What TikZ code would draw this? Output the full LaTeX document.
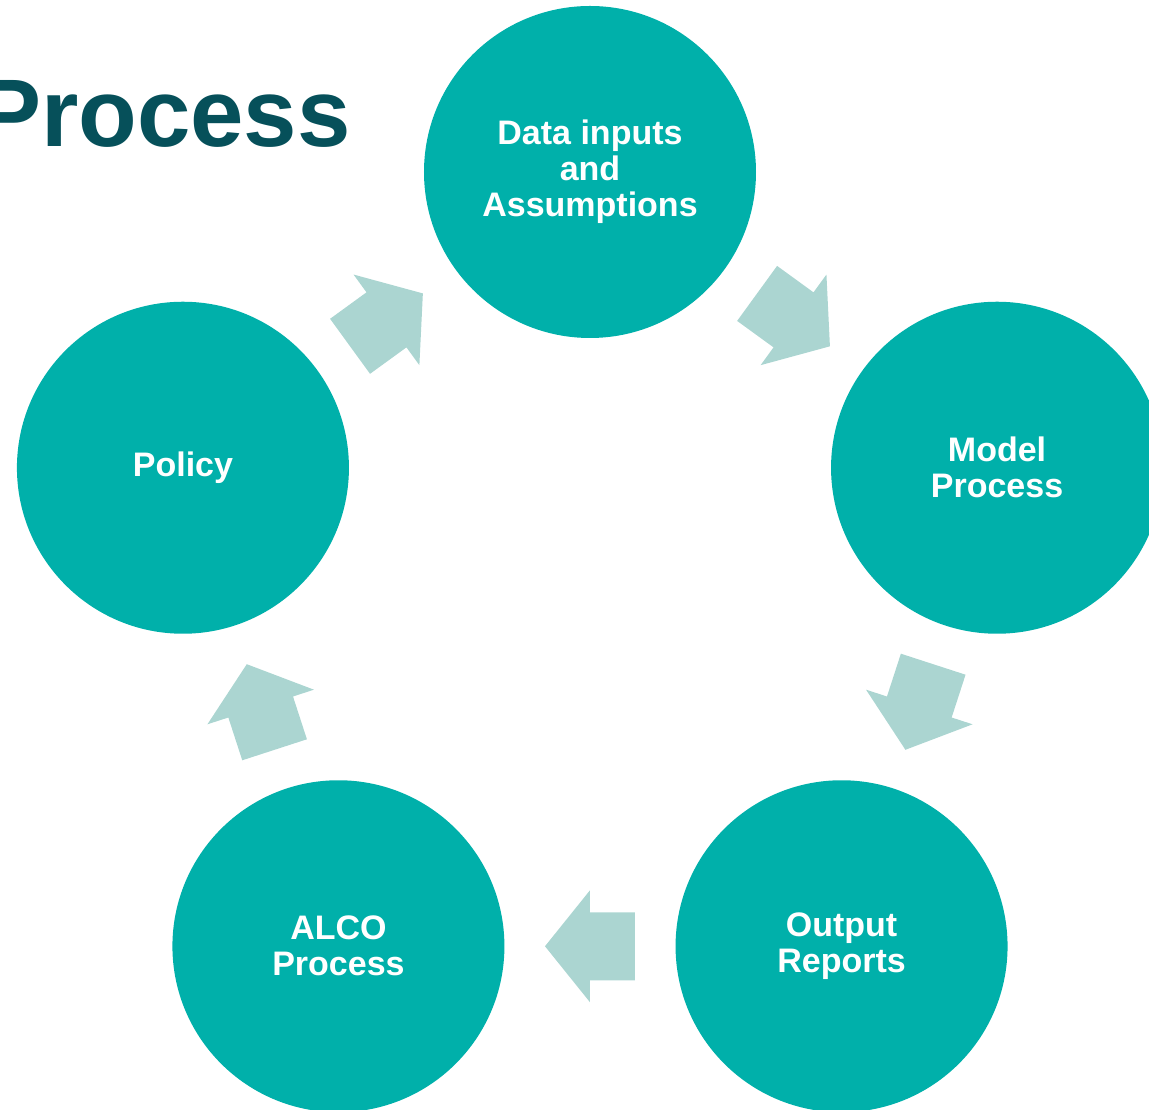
\documentclass[tikz,border=0pt]{standalone}
\usepackage{fontspec}
\setmainfont{Liberation Sans}
\usetikzlibrary{calc}

\definecolor{stageteal}{RGB}{0,176,170}
\definecolor{arrowteal}{RGB}{171,213,209}
\definecolor{titleteal}{RGB}{6,80,90}

\tikzset{
  stage/.style={circle, fill=stageteal, minimum size=332pt, inner sep=0pt,
    text=white, align=center, font=\fontsize{34}{36}\selectfont\bfseries},
  blockarrow/.pic={
    \fill[arrowteal] (-45,-34) -- (0,-34) -- (0,-56) -- (45,0)
      -- (0,56) -- (0,34) -- (-45,34) -- cycle;
  }
}

% fat arrow half way between two stages, pointing from #1 to #2
\newcommand\cyclearrow[2]{%
  \path let \p1=($(#2)-(#1)$), \n1={atan2(\y1,\x1)} in
    pic[rotate=\n1] at ($(#1)!0.5!(#2)$) {blockarrow};}

\begin{document}
\begin{tikzpicture}[x=1pt,y=1pt]
  \useasboundingbox (-590,-510) rectangle (559,600);
  \coordinate (Origin) at (0,0);
  \node[stage] (data) at (90:428) {Data inputs\\and\\Assumptions};
  \node[stage] (model) at (18:428) {Model\\Process};
  \node[stage] (output) at (-54:428) {Output\\Reports};
  \node[stage] (alco) at (-126:428) {ALCO\\Process};
  \node[stage] (policy) at (162:428) {Policy};
  \cyclearrow{data}{model}
  \cyclearrow{model}{output}
  \cyclearrow{output}{alco}
  \cyclearrow{alco}{policy}
  \cyclearrow{policy}{data}
  \node[anchor=base east, inner sep=0pt, text=titleteal,
    font=\fontsize{96}{96}\selectfont\bfseries] (title) at (-239,453) {Process};
\end{tikzpicture}
\end{document}
